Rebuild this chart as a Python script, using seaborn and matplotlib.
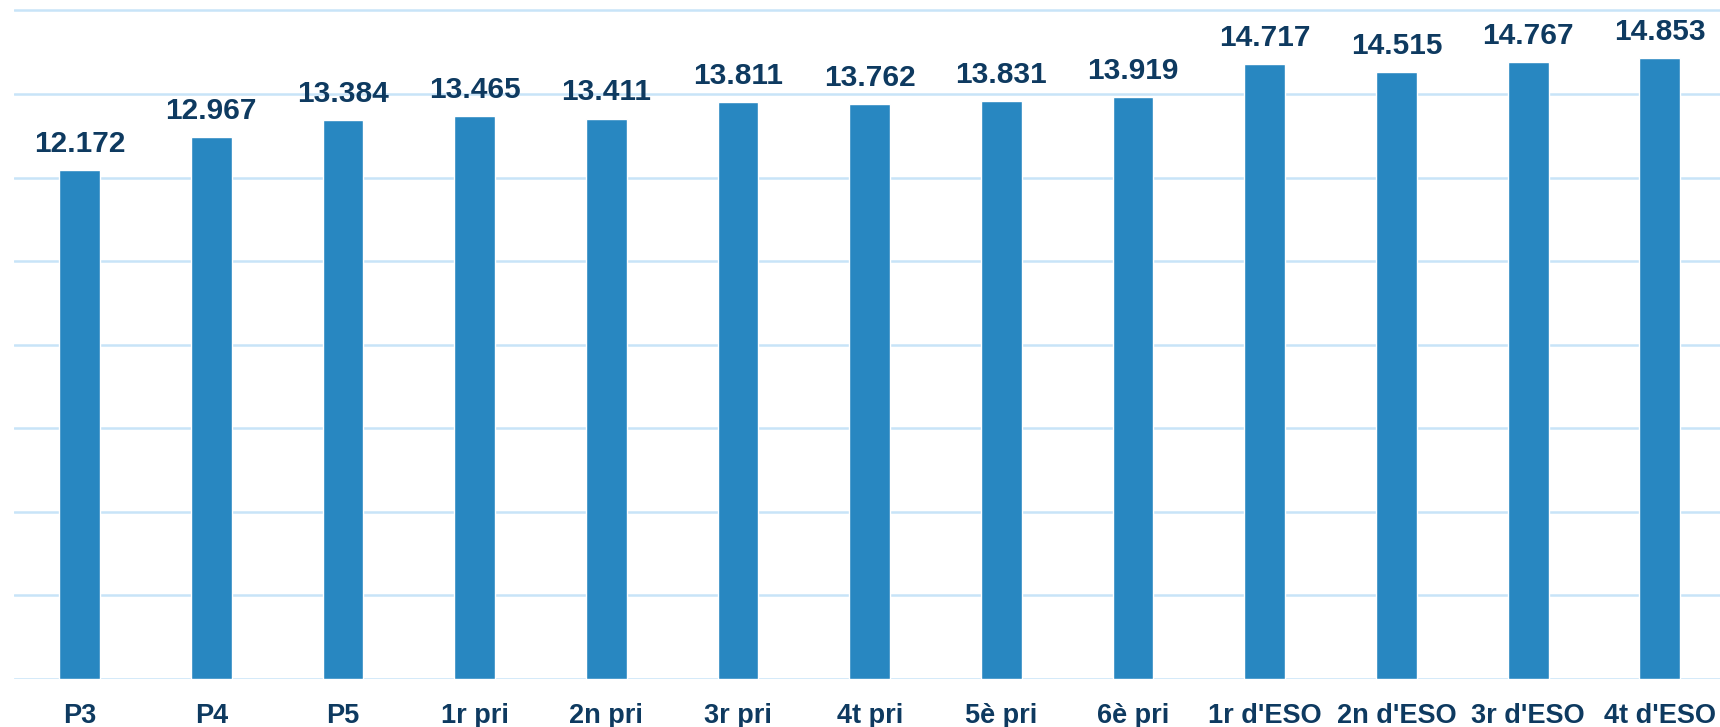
import pandas as pd
import seaborn as sns
import matplotlib.pyplot as plt

levels = ["P3", "P4", "P5", "1r pri", "2n pri", "3r pri", "4t pri", "5è pri",
          "6è pri", "1r d'ESO", "2n d'ESO", "3r d'ESO", "4t d'ESO"]
values = [12.172, 12.967, 13.384, 13.465, 13.411, 13.811, 13.762, 13.831,
          13.919, 14.717, 14.515, 14.767, 14.853]
labels = ["12.172", "12.967", "13.384", "13.465", "13.411", "13.811", "13.762",
          "13.831", "13.919", "14.717", "14.515", "14.767", "14.853"]

BAR = "#2887C1"
TEXT = "#0E3A60"
GRID = "#C8E4F8"


def main() -> None:
    sns.set_theme(style="white")
    plt.rcParams["font.family"] = ["Liberation Sans", "DejaVu Sans"]

    df = pd.DataFrame({"level": levels, "value": values})

    fig = plt.figure(figsize=(17.2, 7.27), dpi=100)
    # axes slightly wider than the figure, as in the reference
    ax = fig.add_axes([13.7 / 1720, 48 / 727, 1712 / 1720, 677 / 727])

    sns.barplot(data=df, x="level", y="value", color=BAR, saturation=1,
                width=0.31, ax=ax)

    ax.set_ylim(0, 16.2)
    ax.set_xlim(-0.5, 12.5)
    ax.set_yticks(range(0, 17, 2))
    ax.set_yticklabels([])
    ax.yaxis.grid(True, color=GRID, linewidth=1.8)
    ax.set_axisbelow(True)
    for s in ax.spines.values():
        s.set_visible(False)

    ax.set_xlabel("")
    ax.set_ylabel("")
    ax.tick_params(axis="x", length=0, pad=17, labelsize=19.5,
                   labelcolor=TEXT)
    ax.tick_params(axis="y", length=0)
    for t in ax.get_xticklabels():
        t.set_fontweight("bold")

    for i, (v, lab) in enumerate(zip(values, labels)):
        ax.annotate(lab, (i, v), xytext=(0, 13), textcoords="offset points",
                    ha="center", va="baseline", fontsize=21.5,
                    fontweight="bold", color=TEXT)

    fig.savefig("out.png", dpi=100)


if __name__ == "__main__":
    main()
